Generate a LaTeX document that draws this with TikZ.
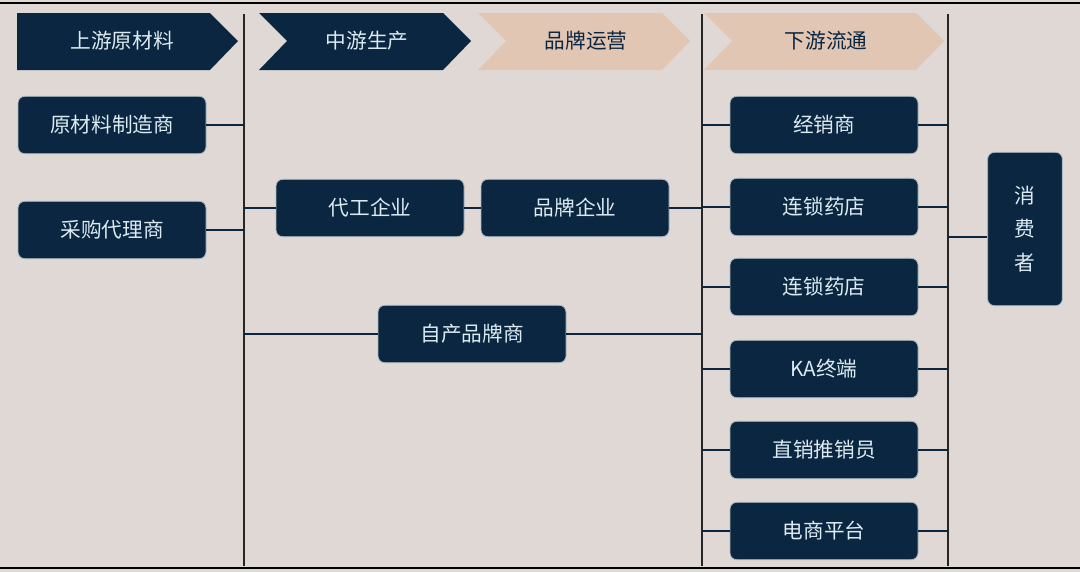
\documentclass[tikz,border=0pt]{standalone}
\usepackage{fontspec}
\setmainfont{Noto Sans CJK SC}
\begin{document}
\begin{tikzpicture}[x=0.75pt,y=-0.75pt,
  box/.style={draw=cyan!30!black!40, line width=0.6pt, fill=navy, rounded corners=5pt, text=boxtxt, font=\fontsize{15.5}{18}\selectfont, inner sep=0pt},
  ln/.style={line width=1.2pt, color=navy},
  vl/.style={line width=1.3pt, color=black!85}]
\definecolor{navy}{HTML}{0B2640}
\definecolor{boxtxt}{HTML}{DCEAF2}
\definecolor{peach}{HTML}{E2C6B4}
\definecolor{bg}{HTML}{E0D8D5}
\fill[bg] (0,0) rectangle (1080,572);
\useasboundingbox (0,0) rectangle (1080,572);
\draw[line width=1.3pt] (0,3) -- (1080,3);
\draw[line width=1.3pt] (0,568) -- (1080,568);
% chevrons
\fill[navy] (17,13) -- (210,13) -- (238,41) -- (210,70) -- (17,70) -- cycle;
\node[text=boxtxt,font=\fontsize{15.5}{18}\selectfont] (h1) at (122,41) {上游原材料};
\fill[navy] (259,13) -- (443,13) -- (471,41) -- (443,70) -- (259,70) -- (287,41) -- cycle;
\node[text=boxtxt,font=\fontsize{15.5}{18}\selectfont] (h2) at (367,41) {中游生产};
\fill[peach] (478,13) -- (662,13) -- (690,41) -- (662,70) -- (478,70) -- (506,41) -- cycle;
\node[text=navy,font=\fontsize{15.5}{18}\selectfont] (h3) at (586,41) {品牌运营};
\fill[peach] (704,13) -- (916,13) -- (944,41) -- (916,70) -- (704,70) -- (732,41) -- cycle;
\node[text=navy,font=\fontsize{15.5}{18}\selectfont] (h4) at (826,41) {下游流通};
% vertical lines
\coordinate (v1t) at (244,14); \coordinate (v1b) at (244,566);
\coordinate (v2t) at (702,14); \coordinate (v2b) at (702,566);
\coordinate (v3t) at (948,14); \coordinate (v3b) at (948,566);
\draw[vl] (v1t) -- (v1b); \draw[vl] (v2t) -- (v2b); \draw[vl] (v3t) -- (v3b);
% left boxes
\node[box,minimum width=141pt,minimum height=43pt] (a1) at (112,125) {原材料制造商};
\node[box,minimum width=141pt,minimum height=43pt] (a2) at (112,230) {采购代理商};
\draw[ln] (a1.east) -- (244,125);
\draw[ln] (a2.east) -- (244,230);
% middle
\node[box,minimum width=141pt,minimum height=43pt] (b1) at (370,208) {代工企业};
\node[box,minimum width=141pt,minimum height=43pt] (b2) at (575,208) {品牌企业};
\node[box,minimum width=141pt,minimum height=43pt] (b3) at (472,334) {自产品牌商};
\draw[ln] (244,208) -- (b1.west);
\draw[ln] (b1.east) -- (b2.west);
\draw[ln] (b2.east) -- (702,208);
\draw[ln] (244,334) -- (b3.west);
\draw[ln] (b3.east) -- (702,334);
% right
\foreach \n/\y/\t in {c1/125/经销商,c2/207/连锁药店,c3/287/连锁药店,c4/369/KA终端,c5/450/直销推销员,c6/531/电商平台}{
  \node[box,minimum width=141pt,minimum height=43pt] (\n) at (824,\y) {\t};
  \draw[ln] (702,\y) -- (\n.west);
  \draw[ln] (\n.east) -- (948,\y);
}
\node[box,minimum width=56pt,minimum height=115pt,align=center,font=\fontsize{15.5}{25}\selectfont] (d) at (1025,229) {消\\费\\者};
\draw[ln] (948,237) -- (d.west |- 0,237);
\end{tikzpicture}
\end{document}
